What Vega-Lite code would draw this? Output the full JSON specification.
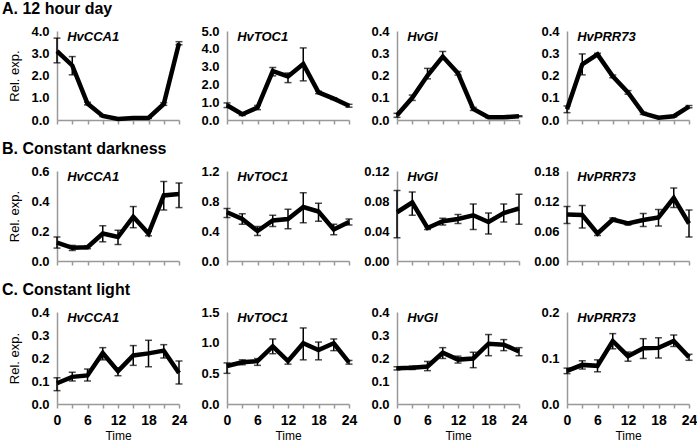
{
"$schema": "https://vega.github.io/schema/vega-lite/v6.json",
"padding": {"left": 2, "top": 1, "right": 0, "bottom": 0},
"datasets": {"d": [
{"c":"A","g":"HvCCA1","t":0,"v":3.1,"lo":2.57,"hi":3.68},
{"c":"A","g":"HvCCA1","t":3,"v":2.45,"lo":2.03,"hi":2.85},
{"c":"A","g":"HvCCA1","t":6,"v":0.74,"lo":0.68,"hi":0.8},
{"c":"A","g":"HvCCA1","t":9,"v":0.18,"lo":0.15,"hi":0.21},
{"c":"A","g":"HvCCA1","t":12,"v":0.05,"lo":0.03,"hi":0.07},
{"c":"A","g":"HvCCA1","t":15,"v":0.09,"lo":0.07,"hi":0.11},
{"c":"A","g":"HvCCA1","t":18,"v":0.09,"lo":0.07,"hi":0.11},
{"c":"A","g":"HvCCA1","t":21,"v":0.72,"lo":0.66,"hi":0.78},
{"c":"A","g":"HvCCA1","t":24,"v":3.45,"lo":3.38,"hi":3.52},
{"c":"A","g":"HvTOC1","t":0,"v":0.83,"lo":0.7,"hi":0.96},
{"c":"A","g":"HvTOC1","t":3,"v":0.32,"lo":0.25,"hi":0.39},
{"c":"A","g":"HvTOC1","t":6,"v":0.7,"lo":0.58,"hi":0.82},
{"c":"A","g":"HvTOC1","t":9,"v":2.75,"lo":2.48,"hi":2.95},
{"c":"A","g":"HvTOC1","t":12,"v":2.45,"lo":2.1,"hi":2.64},
{"c":"A","g":"HvTOC1","t":15,"v":3.15,"lo":2.2,"hi":4.05},
{"c":"A","g":"HvTOC1","t":18,"v":1.55,"lo":1.48,"hi":1.62},
{"c":"A","g":"HvTOC1","t":21,"v":1.2,"lo":1.15,"hi":1.25},
{"c":"A","g":"HvTOC1","t":24,"v":0.8,"lo":0.72,"hi":0.88},
{"c":"A","g":"HvGI","t":0,"v":0.021,"lo":0.012,"hi":0.03},
{"c":"A","g":"HvGI","t":3,"v":0.1,"lo":0.088,"hi":0.112},
{"c":"A","g":"HvGI","t":6,"v":0.2,"lo":0.185,"hi":0.232},
{"c":"A","g":"HvGI","t":9,"v":0.285,"lo":0.272,"hi":0.308},
{"c":"A","g":"HvGI","t":12,"v":0.21,"lo":0.202,"hi":0.218},
{"c":"A","g":"HvGI","t":15,"v":0.05,"lo":0.043,"hi":0.057},
{"c":"A","g":"HvGI","t":18,"v":0.012,"lo":0.01,"hi":0.014},
{"c":"A","g":"HvGI","t":21,"v":0.012,"lo":0.01,"hi":0.014},
{"c":"A","g":"HvGI","t":24,"v":0.017,"lo":0.015,"hi":0.019},
{"c":"A","g":"HvPRR73","t":0,"v":0.048,"lo":0.033,"hi":0.063},
{"c":"A","g":"HvPRR73","t":3,"v":0.25,"lo":0.203,"hi":0.297},
{"c":"A","g":"HvPRR73","t":6,"v":0.295,"lo":0.29,"hi":0.3},
{"c":"A","g":"HvPRR73","t":9,"v":0.196,"lo":0.19,"hi":0.202},
{"c":"A","g":"HvPRR73","t":12,"v":0.124,"lo":0.116,"hi":0.132},
{"c":"A","g":"HvPRR73","t":15,"v":0.03,"lo":0.025,"hi":0.035},
{"c":"A","g":"HvPRR73","t":18,"v":0.01,"lo":0.008,"hi":0.012},
{"c":"A","g":"HvPRR73","t":21,"v":0.017,"lo":0.014,"hi":0.02},
{"c":"A","g":"HvPRR73","t":24,"v":0.06,"lo":0.055,"hi":0.065},
{"c":"B","g":"HvCCA1","t":0,"v":0.122,"lo":0.086,"hi":0.16},
{"c":"B","g":"HvCCA1","t":3,"v":0.088,"lo":0.07,"hi":0.104},
{"c":"B","g":"HvCCA1","t":6,"v":0.092,"lo":0.082,"hi":0.102},
{"c":"B","g":"HvCCA1","t":9,"v":0.183,"lo":0.128,"hi":0.235},
{"c":"B","g":"HvCCA1","t":12,"v":0.16,"lo":0.11,"hi":0.205},
{"c":"B","g":"HvCCA1","t":15,"v":0.295,"lo":0.222,"hi":0.363},
{"c":"B","g":"HvCCA1","t":18,"v":0.183,"lo":0.168,"hi":0.198},
{"c":"B","g":"HvCCA1","t":21,"v":0.437,"lo":0.34,"hi":0.53},
{"c":"B","g":"HvCCA1","t":24,"v":0.446,"lo":0.356,"hi":0.52},
{"c":"B","g":"HvTOC1","t":0,"v":0.65,"lo":0.58,"hi":0.7},
{"c":"B","g":"HvTOC1","t":3,"v":0.56,"lo":0.49,"hi":0.63},
{"c":"B","g":"HvTOC1","t":6,"v":0.4,"lo":0.34,"hi":0.46},
{"c":"B","g":"HvTOC1","t":9,"v":0.54,"lo":0.46,"hi":0.61},
{"c":"B","g":"HvTOC1","t":12,"v":0.56,"lo":0.43,"hi":0.69},
{"c":"B","g":"HvTOC1","t":15,"v":0.72,"lo":0.51,"hi":0.91},
{"c":"B","g":"HvTOC1","t":18,"v":0.66,"lo":0.53,"hi":0.77},
{"c":"B","g":"HvTOC1","t":21,"v":0.42,"lo":0.35,"hi":0.49},
{"c":"B","g":"HvTOC1","t":24,"v":0.52,"lo":0.48,"hi":0.56},
{"c":"B","g":"HvGI","t":0,"v":0.065,"lo":0.031,"hi":0.094},
{"c":"B","g":"HvGI","t":3,"v":0.078,"lo":0.061,"hi":0.092},
{"c":"B","g":"HvGI","t":6,"v":0.044,"lo":0.042,"hi":0.046},
{"c":"B","g":"HvGI","t":9,"v":0.053,"lo":0.048,"hi":0.057},
{"c":"B","g":"HvGI","t":12,"v":0.056,"lo":0.05,"hi":0.062},
{"c":"B","g":"HvGI","t":15,"v":0.061,"lo":0.042,"hi":0.076},
{"c":"B","g":"HvGI","t":18,"v":0.052,"lo":0.036,"hi":0.064},
{"c":"B","g":"HvGI","t":21,"v":0.064,"lo":0.052,"hi":0.076},
{"c":"B","g":"HvGI","t":24,"v":0.07,"lo":0.049,"hi":0.089},
{"c":"B","g":"HvPRR73","t":0,"v":0.093,"lo":0.075,"hi":0.109},
{"c":"B","g":"HvPRR73","t":3,"v":0.092,"lo":0.066,"hi":0.111},
{"c":"B","g":"HvPRR73","t":6,"v":0.055,"lo":0.051,"hi":0.059},
{"c":"B","g":"HvPRR73","t":9,"v":0.083,"lo":0.08,"hi":0.086},
{"c":"B","g":"HvPRR73","t":12,"v":0.075,"lo":0.072,"hi":0.078},
{"c":"B","g":"HvPRR73","t":15,"v":0.082,"lo":0.069,"hi":0.095},
{"c":"B","g":"HvPRR73","t":18,"v":0.087,"lo":0.07,"hi":0.103},
{"c":"B","g":"HvPRR73","t":21,"v":0.126,"lo":0.107,"hi":0.146},
{"c":"B","g":"HvPRR73","t":24,"v":0.075,"lo":0.048,"hi":0.102},
{"c":"C","g":"HvCCA1","t":0,"v":0.09,"lo":0.058,"hi":0.114},
{"c":"C","g":"HvCCA1","t":3,"v":0.118,"lo":0.1,"hi":0.138},
{"c":"C","g":"HvCCA1","t":6,"v":0.124,"lo":0.1,"hi":0.152},
{"c":"C","g":"HvCCA1","t":9,"v":0.222,"lo":0.192,"hi":0.245},
{"c":"C","g":"HvCCA1","t":12,"v":0.143,"lo":0.123,"hi":0.157},
{"c":"C","g":"HvCCA1","t":15,"v":0.211,"lo":0.168,"hi":0.254},
{"c":"C","g":"HvCCA1","t":18,"v":0.22,"lo":0.162,"hi":0.277},
{"c":"C","g":"HvCCA1","t":21,"v":0.232,"lo":0.2,"hi":0.258},
{"c":"C","g":"HvCCA1","t":24,"v":0.135,"lo":0.087,"hi":0.187},
{"c":"C","g":"HvTOC1","t":0,"v":0.62,"lo":0.5,"hi":0.67},
{"c":"C","g":"HvTOC1","t":3,"v":0.68,"lo":0.64,"hi":0.72},
{"c":"C","g":"HvTOC1","t":6,"v":0.7,"lo":0.63,"hi":0.74},
{"c":"C","g":"HvTOC1","t":9,"v":0.94,"lo":0.82,"hi":1.06},
{"c":"C","g":"HvTOC1","t":12,"v":0.7,"lo":0.65,"hi":0.74},
{"c":"C","g":"HvTOC1","t":15,"v":0.99,"lo":0.72,"hi":1.24},
{"c":"C","g":"HvTOC1","t":18,"v":0.88,"lo":0.72,"hi":1.01},
{"c":"C","g":"HvTOC1","t":21,"v":0.99,"lo":0.87,"hi":1.06},
{"c":"C","g":"HvTOC1","t":24,"v":0.68,"lo":0.65,"hi":0.71},
{"c":"C","g":"HvGI","t":0,"v":0.155,"lo":0.148,"hi":0.162},
{"c":"C","g":"HvGI","t":3,"v":0.158,"lo":0.15,"hi":0.165},
{"c":"C","g":"HvGI","t":6,"v":0.163,"lo":0.145,"hi":0.185},
{"c":"C","g":"HvGI","t":9,"v":0.223,"lo":0.198,"hi":0.245},
{"c":"C","g":"HvGI","t":12,"v":0.193,"lo":0.178,"hi":0.208},
{"c":"C","g":"HvGI","t":15,"v":0.198,"lo":0.158,"hi":0.225},
{"c":"C","g":"HvGI","t":18,"v":0.262,"lo":0.21,"hi":0.302},
{"c":"C","g":"HvGI","t":21,"v":0.258,"lo":0.232,"hi":0.28},
{"c":"C","g":"HvGI","t":24,"v":0.228,"lo":0.21,"hi":0.245},
{"c":"C","g":"HvPRR73","t":0,"v":0.072,"lo":0.066,"hi":0.078},
{"c":"C","g":"HvPRR73","t":3,"v":0.085,"lo":0.076,"hi":0.094},
{"c":"C","g":"HvPRR73","t":6,"v":0.083,"lo":0.07,"hi":0.096},
{"c":"C","g":"HvPRR73","t":9,"v":0.137,"lo":0.12,"hi":0.153},
{"c":"C","g":"HvPRR73","t":12,"v":0.104,"lo":0.093,"hi":0.113},
{"c":"C","g":"HvPRR73","t":15,"v":0.121,"lo":0.099,"hi":0.142},
{"c":"C","g":"HvPRR73","t":18,"v":0.122,"lo":0.1,"hi":0.144},
{"c":"C","g":"HvPRR73","t":21,"v":0.137,"lo":0.125,"hi":0.15},
{"c":"C","g":"HvPRR73","t":24,"v":0.102,"lo":0.095,"hi":0.108}
]},
"data": {"name": "d"},
"columns": 4,
"bounds": "flush",
"spacing": {"row": 51, "column": 48},
"concat": [
{"width":122,"height":89,"title":{"text":"A. 12 hour day"},"transform":[{"filter":"datum.c==='A' && datum.g==='HvCCA1'"}],
 "encoding":{"x":{"field":"t","type":"quantitative","scale":{"domain":[0,24],"nice":false},"axis":{"values":[0,3,6,9,12,15,18,21,24],"labels":false,"title":null}},
  "y":{"field":"v","type":"quantitative","scale":{"domain":[0,4],"nice":false},"axis":{"values":[0,1,2,3,4],"format":".1f","title":"Rel. exp."}}},
 "layer":[{"mark":{"type":"errorbar","ticks":{"size":7},"thickness":1.5,"color":"black"},"encoding":{"y":{"field":"lo","type":"quantitative","title":"Rel. exp."},"y2":{"field":"hi"}}},
  {"mark":{"type":"line","color":"black","strokeWidth":4.5}},
  {"transform":[{"filter":"datum.t===0"}],"mark":{"type":"text","align":"left","baseline":"top","fontStyle":"italic","fontWeight":"bold","fontSize":13},"encoding":{"x":{"datum":2},"y":{"datum":4},"text":{"field":"g"}}}]},
{"width":122,"height":89,"transform":[{"filter":"datum.c==='A' && datum.g==='HvTOC1'"}],
 "encoding":{"x":{"field":"t","type":"quantitative","scale":{"domain":[0,24],"nice":false},"axis":{"values":[0,3,6,9,12,15,18,21,24],"labels":false,"title":null}},
  "y":{"field":"v","type":"quantitative","scale":{"domain":[0,5],"nice":false},"axis":{"values":[0,1,2,3,4,5],"format":".1f","title":null}}},
 "layer":[{"mark":{"type":"errorbar","ticks":{"size":7},"thickness":1.5,"color":"black"},"encoding":{"y":{"field":"lo","type":"quantitative","title":null},"y2":{"field":"hi"}}},
  {"mark":{"type":"line","color":"black","strokeWidth":4.5}},
  {"transform":[{"filter":"datum.t===0"}],"mark":{"type":"text","align":"left","baseline":"top","fontStyle":"italic","fontWeight":"bold","fontSize":13},"encoding":{"x":{"datum":2},"y":{"datum":5},"text":{"field":"g"}}}]},
{"width":122,"height":89,"transform":[{"filter":"datum.c==='A' && datum.g==='HvGI'"}],
 "encoding":{"x":{"field":"t","type":"quantitative","scale":{"domain":[0,24],"nice":false},"axis":{"values":[0,3,6,9,12,15,18,21,24],"labels":false,"title":null}},
  "y":{"field":"v","type":"quantitative","scale":{"domain":[0,0.4],"nice":false},"axis":{"values":[0,0.1,0.2,0.3,0.4],"format":".1f","title":null}}},
 "layer":[{"mark":{"type":"errorbar","ticks":{"size":7},"thickness":1.5,"color":"black"},"encoding":{"y":{"field":"lo","type":"quantitative","title":null},"y2":{"field":"hi"}}},
  {"mark":{"type":"line","color":"black","strokeWidth":4.5}},
  {"transform":[{"filter":"datum.t===0"}],"mark":{"type":"text","align":"left","baseline":"top","fontStyle":"italic","fontWeight":"bold","fontSize":13},"encoding":{"x":{"datum":2},"y":{"datum":0.4},"text":{"field":"g"}}}]},
{"width":122,"height":89,"transform":[{"filter":"datum.c==='A' && datum.g==='HvPRR73'"}],
 "encoding":{"x":{"field":"t","type":"quantitative","scale":{"domain":[0,24],"nice":false},"axis":{"values":[0,3,6,9,12,15,18,21,24],"labels":false,"title":null}},
  "y":{"field":"v","type":"quantitative","scale":{"domain":[0,0.4],"nice":false},"axis":{"values":[0,0.1,0.2,0.3,0.4],"format":".1f","title":null}}},
 "layer":[{"mark":{"type":"errorbar","ticks":{"size":7},"thickness":1.5,"color":"black"},"encoding":{"y":{"field":"lo","type":"quantitative","title":null},"y2":{"field":"hi"}}},
  {"mark":{"type":"line","color":"black","strokeWidth":4.5}},
  {"transform":[{"filter":"datum.t===0"}],"mark":{"type":"text","align":"left","baseline":"top","fontStyle":"italic","fontWeight":"bold","fontSize":13},"encoding":{"x":{"datum":2},"y":{"datum":0.4},"text":{"field":"g"}}}]},

{"width":122,"height":90,"title":{"text":"B. Constant darkness"},"transform":[{"filter":"datum.c==='B' && datum.g==='HvCCA1'"}],
 "encoding":{"x":{"field":"t","type":"quantitative","scale":{"domain":[0,24],"nice":false},"axis":{"values":[0,3,6,9,12,15,18,21,24],"labels":false,"title":null}},
  "y":{"field":"v","type":"quantitative","scale":{"domain":[0,0.6],"nice":false},"axis":{"values":[0,0.2,0.4,0.6],"format":".1f","title":"Rel. exp."}}},
 "layer":[{"mark":{"type":"errorbar","ticks":{"size":7},"thickness":1.5,"color":"black"},"encoding":{"y":{"field":"lo","type":"quantitative","title":"Rel. exp."},"y2":{"field":"hi"}}},
  {"mark":{"type":"line","color":"black","strokeWidth":4.5}},
  {"transform":[{"filter":"datum.t===0"}],"mark":{"type":"text","align":"left","baseline":"top","fontStyle":"italic","fontWeight":"bold","fontSize":13},"encoding":{"x":{"datum":2},"y":{"datum":0.6},"text":{"field":"g"}}}]},
{"width":122,"height":90,"transform":[{"filter":"datum.c==='B' && datum.g==='HvTOC1'"}],
 "encoding":{"x":{"field":"t","type":"quantitative","scale":{"domain":[0,24],"nice":false},"axis":{"values":[0,3,6,9,12,15,18,21,24],"labels":false,"title":null}},
  "y":{"field":"v","type":"quantitative","scale":{"domain":[0,1.2],"nice":false},"axis":{"values":[0,0.4,0.8,1.2],"format":".1f","title":null}}},
 "layer":[{"mark":{"type":"errorbar","ticks":{"size":7},"thickness":1.5,"color":"black"},"encoding":{"y":{"field":"lo","type":"quantitative","title":null},"y2":{"field":"hi"}}},
  {"mark":{"type":"line","color":"black","strokeWidth":4.5}},
  {"transform":[{"filter":"datum.t===0"}],"mark":{"type":"text","align":"left","baseline":"top","fontStyle":"italic","fontWeight":"bold","fontSize":13},"encoding":{"x":{"datum":2},"y":{"datum":1.2},"text":{"field":"g"}}}]},
{"width":122,"height":90,"transform":[{"filter":"datum.c==='B' && datum.g==='HvGI'"}],
 "encoding":{"x":{"field":"t","type":"quantitative","scale":{"domain":[0,24],"nice":false},"axis":{"values":[0,3,6,9,12,15,18,21,24],"labels":false,"title":null}},
  "y":{"field":"v","type":"quantitative","scale":{"domain":[0,0.12],"nice":false},"axis":{"values":[0,0.04,0.08,0.12],"format":".2f","title":null}}},
 "layer":[{"mark":{"type":"errorbar","ticks":{"size":7},"thickness":1.5,"color":"black"},"encoding":{"y":{"field":"lo","type":"quantitative","title":null},"y2":{"field":"hi"}}},
  {"mark":{"type":"line","color":"black","strokeWidth":4.5}},
  {"transform":[{"filter":"datum.t===0"}],"mark":{"type":"text","align":"left","baseline":"top","fontStyle":"italic","fontWeight":"bold","fontSize":13},"encoding":{"x":{"datum":2},"y":{"datum":0.12},"text":{"field":"g"}}}]},
{"width":122,"height":90,"transform":[{"filter":"datum.c==='B' && datum.g==='HvPRR73'"}],
 "encoding":{"x":{"field":"t","type":"quantitative","scale":{"domain":[0,24],"nice":false},"axis":{"values":[0,3,6,9,12,15,18,21,24],"labels":false,"title":null}},
  "y":{"field":"v","type":"quantitative","scale":{"domain":[0,0.18],"nice":false},"axis":{"values":[0,0.06,0.12,0.18],"format":".2f","title":null}}},
 "layer":[{"mark":{"type":"errorbar","ticks":{"size":7},"thickness":1.5,"color":"black"},"encoding":{"y":{"field":"lo","type":"quantitative","title":null},"y2":{"field":"hi"}}},
  {"mark":{"type":"line","color":"black","strokeWidth":4.5}},
  {"transform":[{"filter":"datum.t===0"}],"mark":{"type":"text","align":"left","baseline":"top","fontStyle":"italic","fontWeight":"bold","fontSize":13},"encoding":{"x":{"datum":2},"y":{"datum":0.18},"text":{"field":"g"}}}]},

{"width":122,"height":92,"title":{"text":"C. Constant light"},"transform":[{"filter":"datum.c==='C' && datum.g==='HvCCA1'"}],
 "encoding":{"x":{"field":"t","type":"quantitative","scale":{"domain":[0,24],"nice":false},"axis":{"values":[0,3,6,9,12,15,18,21,24],"labelExpr":"datum.value % 6 === 0 ? datum.label : ''","title":"Time"}},
  "y":{"field":"v","type":"quantitative","scale":{"domain":[0,0.4],"nice":false},"axis":{"values":[0,0.1,0.2,0.3,0.4],"format":".1f","title":"Rel. exp."}}},
 "layer":[{"mark":{"type":"errorbar","ticks":{"size":7},"thickness":1.5,"color":"black"},"encoding":{"y":{"field":"lo","type":"quantitative","title":"Rel. exp."},"y2":{"field":"hi"}}},
  {"mark":{"type":"line","color":"black","strokeWidth":4.5}},
  {"transform":[{"filter":"datum.t===0"}],"mark":{"type":"text","align":"left","baseline":"top","fontStyle":"italic","fontWeight":"bold","fontSize":13},"encoding":{"x":{"datum":2},"y":{"datum":0.4},"text":{"field":"g"}}}]},
{"width":122,"height":92,"transform":[{"filter":"datum.c==='C' && datum.g==='HvTOC1'"}],
 "encoding":{"x":{"field":"t","type":"quantitative","scale":{"domain":[0,24],"nice":false},"axis":{"values":[0,3,6,9,12,15,18,21,24],"labelExpr":"datum.value % 6 === 0 ? datum.label : ''","title":"Time"}},
  "y":{"field":"v","type":"quantitative","scale":{"domain":[0,1.5],"nice":false},"axis":{"values":[0,0.5,1,1.5],"format":".1f","title":null}}},
 "layer":[{"mark":{"type":"errorbar","ticks":{"size":7},"thickness":1.5,"color":"black"},"encoding":{"y":{"field":"lo","type":"quantitative","title":null},"y2":{"field":"hi"}}},
  {"mark":{"type":"line","color":"black","strokeWidth":4.5}},
  {"transform":[{"filter":"datum.t===0"}],"mark":{"type":"text","align":"left","baseline":"top","fontStyle":"italic","fontWeight":"bold","fontSize":13},"encoding":{"x":{"datum":2},"y":{"datum":1.5},"text":{"field":"g"}}}]},
{"width":122,"height":92,"transform":[{"filter":"datum.c==='C' && datum.g==='HvGI'"}],
 "encoding":{"x":{"field":"t","type":"quantitative","scale":{"domain":[0,24],"nice":false},"axis":{"values":[0,3,6,9,12,15,18,21,24],"labelExpr":"datum.value % 6 === 0 ? datum.label : ''","title":"Time"}},
  "y":{"field":"v","type":"quantitative","scale":{"domain":[0,0.4],"nice":false},"axis":{"values":[0,0.1,0.2,0.3,0.4],"format":".1f","title":null}}},
 "layer":[{"mark":{"type":"errorbar","ticks":{"size":7},"thickness":1.5,"color":"black"},"encoding":{"y":{"field":"lo","type":"quantitative","title":null},"y2":{"field":"hi"}}},
  {"mark":{"type":"line","color":"black","strokeWidth":4.5}},
  {"transform":[{"filter":"datum.t===0"}],"mark":{"type":"text","align":"left","baseline":"top","fontStyle":"italic","fontWeight":"bold","fontSize":13},"encoding":{"x":{"datum":2},"y":{"datum":0.4},"text":{"field":"g"}}}]},
{"width":122,"height":92,"transform":[{"filter":"datum.c==='C' && datum.g==='HvPRR73'"}],
 "encoding":{"x":{"field":"t","type":"quantitative","scale":{"domain":[0,24],"nice":false},"axis":{"values":[0,3,6,9,12,15,18,21,24],"labelExpr":"datum.value % 6 === 0 ? datum.label : ''","title":"Time"}},
  "y":{"field":"v","type":"quantitative","scale":{"domain":[0,0.2],"nice":false},"axis":{"values":[0,0.1,0.2],"format":".1f","title":null}}},
 "layer":[{"mark":{"type":"errorbar","ticks":{"size":7},"thickness":1.5,"color":"black"},"encoding":{"y":{"field":"lo","type":"quantitative","title":null},"y2":{"field":"hi"}}},
  {"mark":{"type":"line","color":"black","strokeWidth":4.5}},
  {"transform":[{"filter":"datum.t===0"}],"mark":{"type":"text","align":"left","baseline":"top","fontStyle":"italic","fontWeight":"bold","fontSize":13},"encoding":{"x":{"datum":2},"y":{"datum":0.2},"text":{"field":"g"}}}]}
],
"config": {
 "view": {"stroke": null},
 "font": "Liberation Sans",
 "text": {"font": "Liberation Sans", "color": "black"},
 "title": {"anchor": "start", "frame": "group", "dx": -55, "fontSize": 16, "fontWeight": "bold", "font": "Liberation Sans", "color": "black", "offset": 8},
 "axis": {"grid": false, "domainColor": "#999999", "domainWidth": 1.5, "tickColor": "#999999", "tickWidth": 1.5, "labelFont": "Liberation Sans", "labelFontWeight": "bold", "labelColor": "black", "labelFlush": false, "labelOverlap": false, "titleFont": "Liberation Sans", "titleFontWeight": "normal", "titleColor": "black", "titleFontSize": 13},
 "axisY": {"ticks": false, "labelPadding": 8, "labelFontSize": 13, "minExtent": 29, "maxExtent": 29, "titlePadding": 7},
 "axisX": {"ticks": true, "tickSize": 4, "labelFontSize": 14, "labelPadding": 5, "titlePadding": 3, "titleFontSize": 12}
}
}
